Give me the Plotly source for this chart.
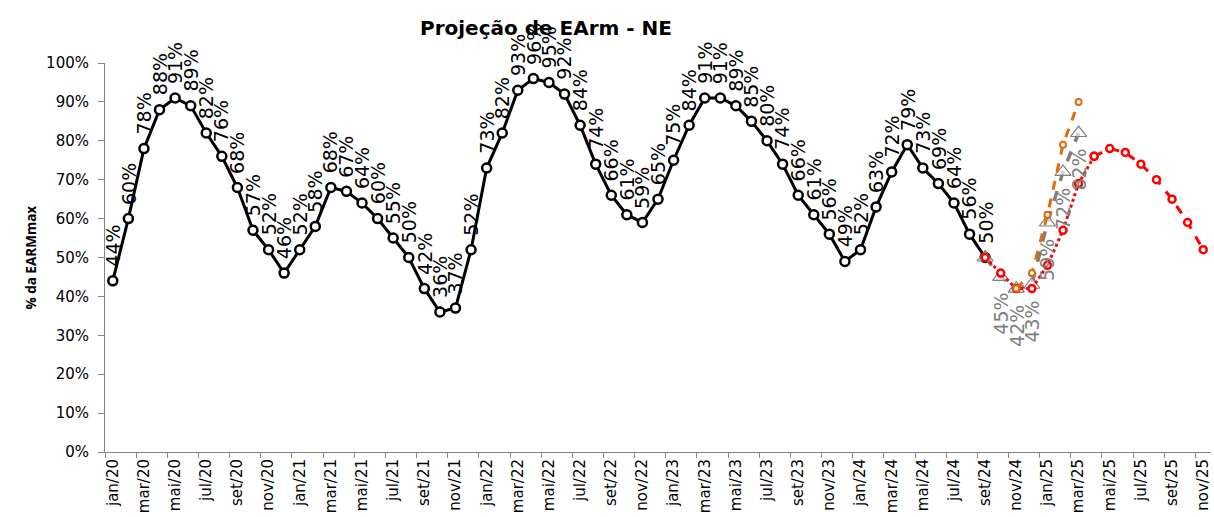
import plotly.graph_objects as go

# ---------------- data ----------------
months = [
    "jan/20", "fev/20", "mar/20", "abr/20", "mai/20", "jun/20", "jul/20", "ago/20", "set/20", "out/20", "nov/20", "dez/20",
    "jan/21", "fev/21", "mar/21", "abr/21", "mai/21", "jun/21", "jul/21", "ago/21", "set/21", "out/21", "nov/21", "dez/21",
    "jan/22", "fev/22", "mar/22", "abr/22", "mai/22", "jun/22", "jul/22", "ago/22", "set/22", "out/22", "nov/22", "dez/22",
    "jan/23", "fev/23", "mar/23", "abr/23", "mai/23", "jun/23", "jul/23", "ago/23", "set/23", "out/23", "nov/23", "dez/23",
    "jan/24", "fev/24", "mar/24", "abr/24", "mai/24", "jun/24", "jul/24", "ago/24", "set/24", "out/24", "nov/24", "dez/24",
    "jan/25", "fev/25", "mar/25", "abr/25", "mai/25", "jun/25", "jul/25", "ago/25", "set/25", "out/25", "nov/25",
]

hist_values = [
    44, 60, 78, 88, 91, 89, 82, 76, 68, 57, 52, 46,
    52, 58, 68, 67, 64, 60, 55, 50, 42, 36, 37, 52,
    73, 82, 93, 96, 95, 92, 84, 74, 66, 61, 59, 65,
    75, 84, 91, 91, 89, 85, 80, 74, 66, 61, 56, 49,
    52, 63, 72, 79, 73, 69, 64, 56, 50,
]
hist_months = months[:len(hist_values)]

grey_months = ["set/24", "out/24", "nov/24", "dez/24", "jan/25", "fev/25", "mar/25"]
grey_values = [50, 45, 42, 43, 59, 72, 82]
grey_labels = ["", "45%", "42%", "43%", "59%", "72%", "82%"]

orange_months = ["nov/24", "dez/24", "jan/25", "fev/25", "mar/25"]
orange_values = [42, 46, 61, 79, 90]

red_dot_months = ["set/24", "out/24", "nov/24", "dez/24", "jan/25", "fev/25", "mar/25", "abr/25"]
red_dot_values = [50, 46, 42, 42, 48, 57, 69, 76]
red_dash_months = ["abr/25", "mai/25", "jun/25", "jul/25", "ago/25", "set/25", "out/25", "nov/25"]
red_dash_values = [76, 78, 77, 74, 70, 65, 59, 52]

FONT = "DejaVu Sans"
GREY = "#7f7f7f"
ORANGE = "#e36c0a"
RED = "#ff0000"

fig = go.Figure()

fig.add_trace(go.Scatter(
    x=hist_months, y=hist_values, mode="lines+markers",
    line=dict(color="black", width=3),
    marker=dict(symbol="circle", size=9, color="white", line=dict(color="black", width=2.5)),
    showlegend=False,
))
fig.add_trace(go.Scatter(
    x=grey_months, y=grey_values, mode="lines+markers",
    line=dict(color=GREY, width=3.5, dash="dash"),
    marker=dict(symbol="triangle-up", size=14, color="rgba(255,255,255,0.6)", line=dict(color=GREY, width=1.2)),
    showlegend=False,
))
fig.add_trace(go.Scatter(
    x=red_dot_months, y=red_dot_values, mode="lines+markers",
    line=dict(color=RED, width=3, dash="dot"),
    marker=dict(symbol="circle", size=7, color="white", line=dict(color=RED, width=2.5)),
    showlegend=False,
))
fig.add_trace(go.Scatter(
    x=red_dash_months, y=red_dash_values, mode="lines+markers",
    line=dict(color=RED, width=3, dash="dash"),
    marker=dict(symbol="circle", size=7, color="white", line=dict(color=RED, width=2.5)),
    showlegend=False,
))
fig.add_trace(go.Scatter(
    x=orange_months, y=orange_values, mode="lines+markers",
    line=dict(color=ORANGE, width=3, dash="dash"),
    marker=dict(symbol="circle", size=6, color="white", line=dict(color=ORANGE, width=2)),
    showlegend=False,
))

annotations = []
for m, v in zip(hist_months, hist_values):
    annotations.append(dict(
        x=m, y=v, xref="x", yref="y", text=f"{v}%", showarrow=False,
        textangle=-90, xanchor="center", yanchor="bottom", yshift=12,
        font=dict(family=FONT, size=19, color="black"),
    ))
for m, v, t in zip(grey_months, grey_values, grey_labels):
    if t:
        annotations.append(dict(
            x=m, y=v, xref="x", yref="y", text=t, showarrow=False,
            textangle=-90, xanchor="center", yanchor="top", yshift=-14,
            font=dict(family=FONT, size=19, color=GREY),
        ))
annotations.append(dict(
    x=0, xref="paper", xshift=-75, xanchor="center", y=0.5, yref="paper",
    text="<b>% da EARMmax</b>", showarrow=False, textangle=-90,
    font=dict(family="Open Sans", size=13.5, color="black"),
))

fig.update_layout(
    width=1214, height=517,
    margin=dict(l=105, r=3, t=63, b=65),
    paper_bgcolor="white", plot_bgcolor="white",
    title=dict(text="<b>Projeção de EArm - NE</b>", x=(546 - 105) / 1106, xref="paper",
               xanchor="center", y=1 - 28 / 517, yref="container", yanchor="middle",
               font=dict(family=FONT, size=20, color="black")),
    annotations=annotations,
    font=dict(family=FONT),
)
fig.update_xaxes(
    type="category", categoryorder="array", categoryarray=months,
    range=[-0.5, len(months) - 0.5],
    tickson="boundaries", dtick=2, tick0=0,
    tickangle=-90, ticks="outside", ticklen=5, tickcolor="#868686",
    showline=True, linecolor="#868686", linewidth=1, showgrid=False, zeroline=False,
    tickfont=dict(family=FONT, size=15, color="black"),
)
fig.update_yaxes(
    range=[0, 100], dtick=10, ticksuffix="%",
    ticks="outside", ticklen=6, tickcolor="#868686", ticklabelstandoff=6,
    showline=True, linecolor="#868686", linewidth=1, showgrid=False, zeroline=False,
    tickfont=dict(family=FONT, size=15, color="black"),
)

fig.write_html("out.html", config={"displayModeBar": False},
               post_script="document.body.style.margin='0';")
